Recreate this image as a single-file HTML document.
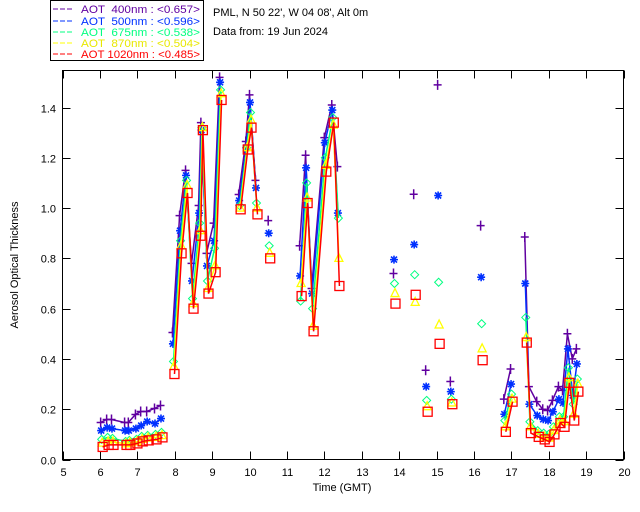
<!DOCTYPE html>
<html><head><meta charset="utf-8"><style>
html,body{margin:0;padding:0;background:#fff;width:640px;height:512px;overflow:hidden}
svg{display:block;font-family:"Liberation Sans",sans-serif}
.lg{white-space:pre}
</style></head><body>
<svg id="chart" width="640" height="512" viewBox="0 0 640 512" xmlns="http://www.w3.org/2000/svg">
<g font-size="11">
<rect x="50.5" y="0.5" width="153" height="60" fill="#fff" stroke="#000"/>
<g><line x1="53" y1="9" x2="73" y2="9" stroke="#6000a0" stroke-dasharray="5,2"/><text class="lg" x="81" y="13" fill="#6000a0" textLength="119" lengthAdjust="spacingAndGlyphs">AOT  400nm : &lt;0.657&gt;</text></g>
<g><line x1="53" y1="21" x2="73" y2="21" stroke="#0030ff" stroke-dasharray="5,2"/><text class="lg" x="81" y="25" fill="#0030ff" textLength="119" lengthAdjust="spacingAndGlyphs">AOT  500nm : &lt;0.596&gt;</text></g>
<g><line x1="53" y1="32" x2="73" y2="32" stroke="#00ff80" stroke-dasharray="5,2"/><text class="lg" x="81" y="36" fill="#00ff80" textLength="119" lengthAdjust="spacingAndGlyphs">AOT  675nm : &lt;0.538&gt;</text></g>
<g><line x1="53" y1="43" x2="73" y2="43" stroke="#ffff00" stroke-dasharray="5,2"/><text class="lg" x="81" y="47" fill="#e8e800" textLength="119" lengthAdjust="spacingAndGlyphs">AOT  870nm : &lt;0.504&gt;</text></g>
<g><line x1="53" y1="54" x2="73" y2="54" stroke="#ff0000" stroke-dasharray="5,2"/><text class="lg" x="81" y="58" fill="#ff0000" textLength="119" lengthAdjust="spacingAndGlyphs">AOT 1020nm : &lt;0.485&gt;</text></g>
</g>
<text x="213" y="16" font-size="11">PML, N 50 22', W 04 08', Alt 0m</text>
<text x="213" y="35" font-size="11">Data from: 19 Jun 2024</text>
<rect x="62.5" y="70.5" width="561" height="389" fill="none" stroke="#000"/>
<g id="axes"></g>
<g id="marks"></g>
<text x="342" y="491" font-size="11" text-anchor="middle">Time (GMT)</text>
<text transform="translate(18,265) rotate(-90)" font-size="11" text-anchor="middle">Aerosol Optical Thickness</text>
</svg>
<script>
const times=[6.02,6.18,6.31,6.66,6.76,6.95,7.09,7.25,7.46,7.62,
7.94,8.13,8.29,8.45,8.64,8.70,8.85,9.04,9.20,
9.71,9.90,10.0,10.16,10.5,
11.34,11.5,11.66,12.0,12.2,12.35,
13.85,14.39,14.71,15.03,15.37,16.18,
16.80,16.98,
17.36,17.47,17.68,17.84,17.97,18.10,18.26,18.37,18.50,18.63,18.74];
const segments=[1,1,1,1,1,1,1,1,1,1, 2,2,2,2,2,2,2,2,2, 3,3,3,3,4, 5,5,5,5,5,5, 6,7,8,9,10,11, 12,12, 13,13,13,13,13,13,13,13,13,13,13];
const aot400=[.147,.159,.159,.147,.147,.179,.191,.191,.203,.215,
.505,.97,1.15,.78,1.01,1.34,.82,.94,1.52,
1.054,1.265,1.45,1.11,.95,
.85,1.21,.68,1.28,1.41,1.165,
.74,1.055,.355,1.49,.31,.93,
.24,.36,
.885,.29,.23,.2,.195,.235,.29,.275,.50,.40,.44];
const aot500=[.115,.127,.123,.115,.115,.123,.135,.151,.143,.163,
.46,.91,1.13,.71,.98,1.31,.77,.87,1.50,
1.03,1.24,1.42,1.08,.90,
.73,1.16,.66,1.26,1.39,.98,
.795,.855,.29,1.05,.27,.725,
.18,.30,
.70,.22,.175,.16,.155,.19,.24,.225,.44,.255,.38];
const aot675=[.08,.088,.084,.072,.076,.08,.092,.096,.1,.108,
.39,.87,1.11,.64,.94,1.32,.71,.84,1.47,
1.01,1.24,1.38,1.02,.85,
.63,1.10,.60,1.20,1.36,.96,
.70,.735,.235,.705,.24,.54,
.155,.26,
.565,.15,.115,.105,.10,.13,.17,.17,.365,.22,.32];
const aot870=[.065,.07,.07,.062,.066,.07,.08,.085,.088,.095,
.37,.85,1.09,.62,.91,1.32,.68,.77,1.455,
1.00,1.24,1.35,1.00,.82,
.70,1.04,.53,1.17,1.33,.80,
.66,.625,.21,.535,.225,.44,
.13,.24,
.485,.13,.10,.09,.085,.115,.155,.15,.325,.18,.30];
const aot1020=[.05,.058,.058,.058,.058,.064,.072,.076,.08,.088,
.34,.82,1.06,.60,.89,1.31,.66,.745,1.43,
.995,1.233,1.32,.975,.80,
.65,1.02,.51,1.145,1.34,.69,
.62,.655,.19,.46,.22,.395,
.11,.23,
.465,.105,.09,.08,.07,.10,.145,.13,.305,.155,.27];
const xTicks=[5,6,7,8,9,10,11,12,13,14,15,16,17,18,19,20];
const yTicks=[0,0.2,0.4,0.6,0.8,1.0,1.2,1.4];
const yTickLabels=["0.0","0.2","0.4","0.6","0.8","1.0","1.2","1.4"];

const NS="http://www.w3.org/2000/svg";
const X0=62.5,X1=623.5,Y0=459.5,YT=70.5;
const xs=t=>X0+(t-5)/15*(X1-X0);
const ys=v=>Y0-v/1.4*(Y0-107.5);
function mk(tag,attrs,parent){const e=document.createElementNS(NS,tag);for(const k in attrs)e.setAttribute(k,attrs[k]);parent.appendChild(e);return e;}
const axes=document.getElementById('axes');
xTicks.forEach((t,i)=>{
  const g=mk('g',{},axes);
  
  
  const x=Math.round(xs(t))+0.5;
  mk('line',{x1:x,y1:Y0,x2:x,y2:Y0-8,stroke:'#000'},g);
  mk('line',{x1:x,y1:YT,x2:x,y2:YT+8,stroke:'#000'},g);
  const tx=mk('text',{x:x,y:476,'font-size':11,'text-anchor':'middle'},g);tx.textContent=String(t);
});
yTicks.forEach((v,i)=>{
  const g=mk('g',{},axes);
  
  
  const y=Math.round(ys(v))+0.5;
  mk('line',{x1:X0,y1:y,x2:X0+8,y2:y,stroke:'#000'},g);
  mk('line',{x1:X1,y1:y,x2:X1-8,y2:y,stroke:'#000'},g);
  const tx=mk('text',{x:56,y:y+4,'font-size':11,'text-anchor':'end'},g);tx.textContent=yTickLabels[i];
});
const series=[
 {name:'400',data:aot400,color:'#6000a0',mark:'plus',dx:0},
 {name:'500',data:aot500,color:'#0030ff',mark:'star',dx:0.5},
 {name:'675',data:aot675,color:'#00ff80',mark:'diamond',dx:1},
 {name:'870',data:aot870,color:'#ffff00',mark:'tri',dx:1.5},
 {name:'1020',data:aot1020,color:'#ff0000',mark:'square',dx:2}];
const marks=document.getElementById('marks');
series.forEach(s=>{
  const g=mk('g',{},marks);
  
  
  let d='';
  times.forEach((t,i)=>{
    const x=xs(t)+s.dx,y=ys(s.data[i]);
    d+=(i>0&&segments[i]===segments[i-1]?'L':'M')+x.toFixed(1)+' '+y.toFixed(1)+' ';
  });
  const p=mk('path',{d:d,fill:'none',stroke:s.color,'stroke-width':1.5},g);
  
  
  times.forEach((t,i)=>{
    const x=xs(t)+s.dx,y=ys(s.data[i]);let e;
    if(s.mark==='plus')e=mk('path',{d:`M${x-4} ${y}H${x+4}M${x} ${y-5}V${y+5}`,stroke:s.color,'stroke-width':1.5,fill:'none'},g);
    else if(s.mark==='star')e=mk('path',{d:`M${x-4} ${y}H${x+4}M${x} ${y-4}V${y+4}M${x-3} ${y-3}L${x+3} ${y+3}M${x-3} ${y+3}L${x+3} ${y-3}`,stroke:s.color,'stroke-width':1.6,fill:'none'},g);
    else if(s.mark==='diamond')e=mk('path',{d:`M${x} ${y-4}L${x+4} ${y}L${x} ${y+4}L${x-4} ${y}Z`,stroke:s.color,fill:'none'},g);
    else if(s.mark==='tri')e=mk('path',{d:`M${x} ${y-5}L${x+4} ${y+3}L${x-4} ${y+3}Z`,stroke:s.color,'stroke-width':1.3,fill:'none'},g);
    else e=mk('rect',{x:x-4.5,y:y-4.5,width:9,height:9,stroke:s.color,'stroke-width':1.3,fill:'none'},g);
    
    
  });
});
</script>
</body></html>
